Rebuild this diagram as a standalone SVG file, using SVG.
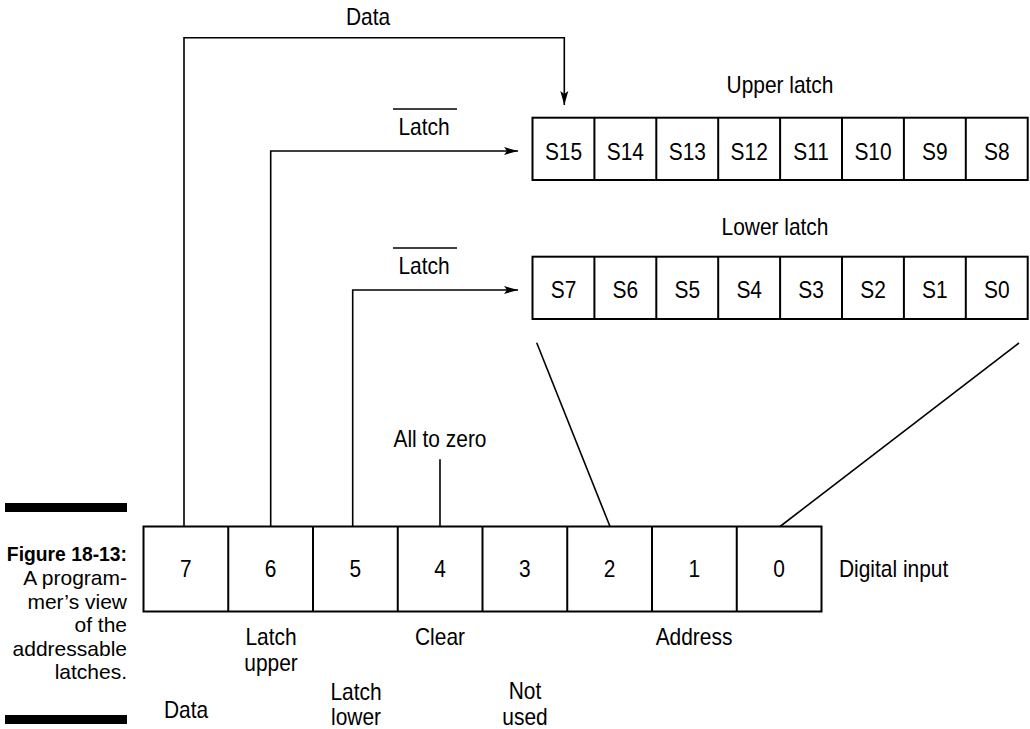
<svg xmlns="http://www.w3.org/2000/svg" width="1030" height="729" viewBox="0 0 1030 729">
<style>
  .t{font-family:"Liberation Sans",Arial,sans-serif;font-size:23px;fill:#000;transform-box:fill-box;transform-origin:center;transform:scaleX(0.91)}
  .m{text-anchor:middle}
  .s{transform-origin:left center}
  .e{text-anchor:end;transform-origin:right center;font-size:21px;transform:none}
  .box{fill:#fff;stroke:#000;stroke-width:2}
  .div{stroke:#000;stroke-width:2}
  .ln{fill:none;stroke:#000;stroke-width:1.6}
  .b{font-weight:bold;transform:scaleX(0.92)}
</style>
<defs>
  <marker id="arr" viewBox="0 0 14 10" refX="14" refY="5" markerWidth="14" markerHeight="10" markerUnits="userSpaceOnUse" orient="auto">
    <path d="M0,1 L14,5 L0,9 L3,5 Z" fill="#000"/>
  </marker>
</defs>
<rect width="1030" height="729" fill="#fff"/>

<g id="connectors">
  <path class="ln" d="M184,526.5 V37.7 H564.3 V105" marker-end="url(#arr)"/>
  <path class="ln" d="M270.7,526.5 V151 H518" marker-end="url(#arr)"/>
  <path class="ln" d="M352.7,526.5 V290 H518" marker-end="url(#arr)"/>
  <path class="ln" d="M440,459.3 V526.5"/>
  <path class="ln" d="M536.7,342.7 L610,526.5"/>
  <path class="ln" d="M1019,343 L780,526.5"/>
</g>

<g id="label-data-top"><text class="t m" x="368" y="25">Data</text></g>
<g id="label-latch-upper-signal">
  <line class="ln" x1="393" y1="109" x2="457" y2="109"/>
  <text class="t m" x="424" y="135">Latch</text>
</g>
<g id="label-latch-lower-signal">
  <line class="ln" x1="393" y1="248" x2="457" y2="248"/>
  <text class="t m" x="424" y="274">Latch</text>
</g>

<g id="upper-latch">
  <text class="t m" x="780" y="93">Upper latch</text>
  <rect class="box" x="532.5" y="117.7" width="495.2" height="62.3"/>
  <path class="div" d="M594.4,117.7V180M656.3,117.7V180M718.2,117.7V180M780.1,117.7V180M842,117.7V180M903.9,117.7V180M965.8,117.7V180"/>
  <text class="t m" x="563.5" y="160">S15</text>
  <text class="t m" x="625.4" y="160">S14</text>
  <text class="t m" x="687.3" y="160">S13</text>
  <text class="t m" x="749.2" y="160">S12</text>
  <text class="t m" x="811.1" y="160">S11</text>
  <text class="t m" x="873" y="160">S10</text>
  <text class="t m" x="934.9" y="160">S9</text>
  <text class="t m" x="996.8" y="160">S8</text>
</g>

<g id="lower-latch">
  <text class="t m" x="775" y="235">Lower latch</text>
  <rect class="box" x="532.5" y="256.7" width="495.2" height="62.3"/>
  <path class="div" d="M594.4,256.7V319M656.3,256.7V319M718.2,256.7V319M780.1,256.7V319M842,256.7V319M903.9,256.7V319M965.8,256.7V319"/>
  <text class="t m" x="563.5" y="298">S7</text>
  <text class="t m" x="625.4" y="298">S6</text>
  <text class="t m" x="687.3" y="298">S5</text>
  <text class="t m" x="749.2" y="298">S4</text>
  <text class="t m" x="811.1" y="298">S3</text>
  <text class="t m" x="873" y="298">S2</text>
  <text class="t m" x="934.9" y="298">S1</text>
  <text class="t m" x="996.8" y="298">S0</text>
</g>

<g id="label-all-to-zero"><text class="t m" x="440" y="446.7">All to zero</text></g>

<g id="register">
  <rect class="box" x="143.5" y="526.5" width="678" height="85"/>
  <path class="div" d="M228.25,526.5V611.5M313,526.5V611.5M397.75,526.5V611.5M482.5,526.5V611.5M567.25,526.5V611.5M652,526.5V611.5M736.75,526.5V611.5"/>
  <text class="t m" x="185.9" y="576.7">7</text>
  <text class="t m" x="270.6" y="576.7">6</text>
  <text class="t m" x="355.4" y="576.7">5</text>
  <text class="t m" x="440.1" y="576.7">4</text>
  <text class="t m" x="524.9" y="576.7">3</text>
  <text class="t m" x="609.6" y="576.7">2</text>
  <text class="t m" x="694.4" y="576.7">1</text>
  <text class="t m" x="779.1" y="576.7">0</text>
  <text class="t s" x="839" y="577">Digital input</text>
</g>

<g id="bit-labels">
  <text class="t m" x="271" y="645.5">Latch</text>
  <text class="t m" x="271" y="671">upper</text>
  <text class="t m" x="440" y="645">Clear</text>
  <text class="t m" x="694" y="645">Address</text>
  <text class="t m" x="186" y="718">Data</text>
  <text class="t m" x="356" y="700">Latch</text>
  <text class="t m" x="356" y="725">lower</text>
  <text class="t m" x="525" y="699.5">Not</text>
  <text class="t m" x="525" y="725">used</text>
</g>

<g id="caption">
  <rect x="5" y="503" width="122" height="9" fill="#000"/>
  <rect x="5" y="715" width="122" height="9" fill="#000"/>
  <text class="t e b" x="127" y="561">Figure 18-13:</text>
  <text class="t e" x="127" y="585">A program-</text>
  <text class="t e" x="127" y="608.5">mer’s view</text>
  <text class="t e" x="127" y="632">of the</text>
  <text class="t e" x="127" y="655.5">addressable</text>
  <text class="t e" x="127" y="679">latches.</text>
</g>
</svg>
